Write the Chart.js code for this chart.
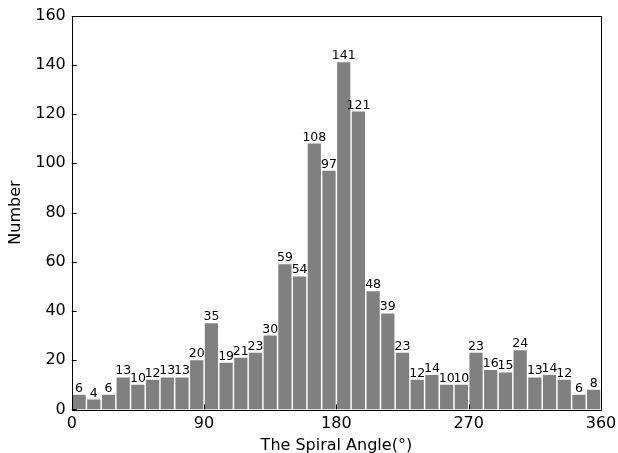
<!DOCTYPE html>
<html>
<head>
<meta charset="utf-8">
<script src="https://cdn.jsdelivr.net/npm/chart.js@4/dist/chart.umd.min.js"></script>
<style>
  html, body { margin: 0; padding: 0; background: #fff; }
  #wrap { width: 618px; height: 453px; }
</style>
</head>
<body>
<div id="wrap"><canvas id="spiral_chart" width="618" height="453"></canvas></div>
<script>
// histogram of spiral angles, 10 degree bins
var binStarts = [0, 10, 20, 30, 40, 50, 60, 70, 80, 90, 100, 110, 120, 130, 140, 150, 160, 170,
                 180, 190, 200, 210, 220, 230, 240, 250, 260, 270, 280, 290, 300, 310, 320, 330, 340, 350];
var counts = [6, 4, 6, 13, 10, 12, 13, 13, 20, 35, 19, 21, 23, 30, 59, 54, 108, 97,
              141, 121, 48, 39, 23, 12, 14, 10, 10, 23, 16, 15, 24, 13, 14, 12, 6, 8];
var xTicks = [0, 90, 180, 270, 360];
var yTicks = [0, 20, 40, 60, 80, 100, 120, 140, 160];
var binWidth = 10;

var points = [];
binStarts.forEach(function (s, i) {
  points.push({ x: s + binWidth / 2, y: counts[i] });
});

// frame + inward tick marks, like a matplotlib axes
var framePlugin = {
  id: 'frame',
  afterDraw: function (chart) {
    var ctx = chart.ctx;
    var a = chart.chartArea;
    var xs = chart.scales.x, ys = chart.scales.y;
    ctx.save();
    ctx.strokeStyle = '#000';
    ctx.lineWidth = 1;
    ctx.strokeRect(Math.round(a.left) + 0.5, Math.round(a.top) + 0.5,
                   Math.round(a.right - a.left), Math.round(a.bottom - a.top));
    ctx.beginPath();
    yTicks.forEach(function (v) {
      var py = Math.round(ys.getPixelForValue(v)) + 0.5;
      ctx.moveTo(a.left, py);
      ctx.lineTo(a.left + 5, py);
    });
    xTicks.forEach(function (v) {
      var px = Math.round(xs.getPixelForValue(v)) + 0.5;
      ctx.moveTo(px, a.bottom);
      ctx.lineTo(px, a.bottom - 5);
    });
    ctx.stroke();
    ctx.restore();
  }
};

// count written above each bar
var labelPlugin = {
  id: 'barLabels',
  afterDatasetsDraw: function (chart) {
    var ctx = chart.ctx;
    var meta = chart.getDatasetMeta(0);
    ctx.save();
    ctx.fillStyle = '#000';
    ctx.font = '12.5px "DejaVu Sans"';
    ctx.textAlign = 'center';
    ctx.textBaseline = 'bottom';
    meta.data.forEach(function (bar, i) {
      ctx.fillText(String(counts[i]), bar.x, bar.y);
    });
    ctx.restore();
  }
};

var ctx = document.getElementById('spiral_chart').getContext('2d');
var chart = new Chart(ctx, {
  type: 'bar',
  data: {
    datasets: [{
      data: points,
      backgroundColor: '#808080',
      borderWidth: 0,
      barPercentage: 0.9,
      categoryPercentage: 1.0
    }]
  },
  options: {
    responsive: false,
    animation: false,
    layout: { padding: { left: 6, right: 17, top: 7, bottom: -2 } },
    plugins: { legend: { display: false }, tooltip: { enabled: false } },
    scales: {
      x: {
        type: 'linear',
        min: 0,
        max: 360,
        offset: false,
        grid: { display: false, drawTicks: false, offset: false },
        border: { display: false },
        afterBuildTicks: function (axis) {
          axis.ticks = xTicks.map(function (v) { return { value: v }; });
        },
        afterFit: function (axis) {
          // let the layout padding decide the right edge, not the "360" label
          axis.paddingRight = 0;
        },
        ticks: {
          color: '#000',
          padding: 6,
          maxRotation: 0,
          font: { family: 'DejaVu Sans', size: 16, lineHeight: 1 }
        },
        title: {
          display: true,
          text: 'The Spiral Angle(°)',
          color: '#000',
          padding: { top: 0, bottom: 0 },
          font: { family: 'DejaVu Sans', size: 16, lineHeight: 1.1 }
        }
      },
      y: {
        min: 0,
        max: 160,
        grid: { display: false, drawTicks: false },
        border: { display: false },
        ticks: {
          stepSize: 20,
          color: '#000',
          padding: 6,
          font: { family: 'DejaVu Sans', size: 16 }
        },
        title: {
          display: true,
          text: 'Number',
          color: '#000',
          padding: { top: 0, bottom: 4 },
          font: { family: 'DejaVu Sans', size: 16 }
        }
      }
    }
  },
  plugins: [framePlugin, labelPlugin]
});
</script>
</body>
</html>
